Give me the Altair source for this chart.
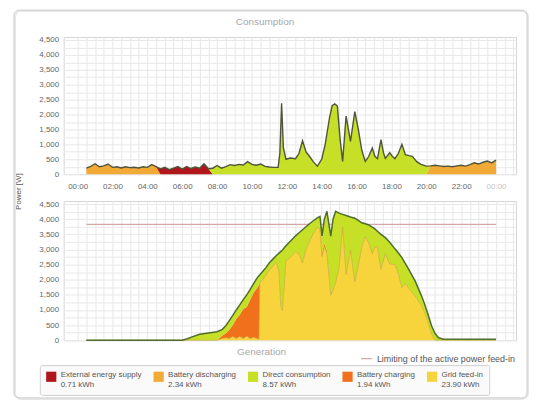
import altair as alt
import pandas as pd

# ---------------- data ----------------
SERIES = ["External energy supply", "Battery discharging", "Direct consumption",
          "Battery charging", "Grid feed-in"]
ENERGY = ["0.71 kWh", "2.34 kWh", "8.57 kWh", "1.94 kWh", "23.90 kWh"]
COLORS = ["#b0161c", "#f2aa36", "#c6df27", "#f0701c", "#f8d43c"]

HOUR_LABELS = ["00:00", "02:00", "04:00", "06:00", "08:00", "10:00", "12:00",
               "14:00", "16:00", "18:00", "20:00", "22:00", "00:00"]

TITLE_TOP = "Consumption"
TITLE_BOTTOM = "Generation"
LIMIT_LABEL = "Limiting of the active power feed-in"
LIMIT_W = [3830]
LIMIT_SPAN = [0.5, 24.0]

# Consumption (W), by the source that covered it
dis_am_t = [0.5, 0.75, 1.0, 1.25, 1.5, 1.75, 2.0, 2.25, 2.5, 2.75, 3.0, 3.25,
            3.5, 3.75, 4.0, 4.25, 4.5]
dis_am_w = [200, 260, 350, 250, 280, 340, 230, 250, 210, 250, 220, 230,
            210, 250, 230, 320, 250]
ext_t = [4.75, 5.0, 5.25, 5.5, 5.75, 6.0, 6.25, 6.5, 6.75, 7.0, 7.25, 7.5]
ext_w = [180, 230, 150, 200, 260, 170, 260, 190, 240, 200, 350, 180]
dir_t = [7.75, 8.0, 8.25, 8.5, 8.75, 9.0, 9.25, 9.5, 9.75, 10.0,
         10.25, 10.5, 10.75, 11.0, 11.25, 11.5, 11.6, 11.7, 11.8, 11.95,
         12.2, 12.5, 12.7, 12.9, 13.1, 13.3, 13.5, 13.75, 14.0, 14.2,
         14.45, 14.6, 14.75, 14.9, 15.05, 15.2, 15.4, 15.65, 15.9, 16.1,
         16.3, 16.5, 16.7, 16.9, 17.05, 17.2, 17.4, 17.55, 17.65, 17.9,
         18.05, 18.2, 18.4, 18.6, 18.8, 19.0, 19.2, 19.45, 19.7, 20.0]
dir_w = [200, 290, 200, 250, 320, 290, 330, 310, 420, 330,
         300, 340, 260, 240, 230, 230, 700, 2380, 900, 500,
         540, 520, 700, 1120, 750, 600, 430, 270, 500, 1000,
         1900, 2300, 2360, 2280, 1200, 430, 1950, 1100, 2100, 1500,
         800, 430, 600, 880, 600, 520, 1160, 700, 530, 720,
         600, 520, 700, 1000, 650, 620, 600, 420, 330, 270]
dis_pm_t = [20.25, 20.5, 20.75, 21.0, 21.25, 21.5, 21.75, 22.0, 22.25, 22.5,
            22.75, 23.0, 23.25, 23.5, 23.75, 24.0]
dis_pm_w = [280, 300, 280, 260, 270, 250, 280, 300, 270, 320,
            380, 340, 400, 440, 380, 470]

# Generation (W), split by use
gen_t = [0.5, 6.0, 6.3, 6.6, 7.0, 7.5, 8.0, 8.3, 8.5, 8.7,
         8.9, 9.1, 9.3, 9.5, 9.7, 9.9, 10.1, 10.3, 10.4, 10.45,
         10.6, 10.8, 11.0, 11.2, 11.4, 11.55, 11.65, 11.75, 11.95, 12.2,
         12.5, 12.7, 12.9, 13.1, 13.3, 13.5, 13.75, 13.9, 14.02, 14.15,
         14.3, 14.52, 14.65, 14.8, 15.0, 15.2, 15.4, 15.65, 15.9, 16.1,
         16.3, 16.5, 16.7, 16.9, 17.05, 17.2, 17.4, 17.65, 17.9, 18.2,
         18.4, 18.6, 18.8, 19.0, 19.35, 19.7, 19.9, 20.1, 20.3, 20.5,
         20.7, 21.0, 24.0]
gen_direct = [0, 0, 50, 120, 200, 240, 280, 200, 250, 300,
              320, 290, 330, 310, 400, 330, 300, 330, 300, 280,
              270, 250, 240, 230, 230, 600, 1800, 2000, 500, 540,
              520, 700, 1100, 750, 600, 430, 300, 450, 600, 800,
              1300, 1950, 2330, 2360, 1800, 430, 1950, 1100, 2100, 1500,
              800, 430, 600, 880, 600, 520, 1160, 530, 720, 520,
              700, 1000, 650, 620, 500, 330, 280, 270, 280, 220,
              80, 30, 30]
gen_charge = [0, 0, 0, 0, 0, 0, 0, 100, 150, 290,
              380, 650, 720, 970, 970, 1290, 1480, 1680, 1800, 0,
              0, 0, 0, 0, 0, 0, 0, 0, 0, 0,
              0, 0, 0, 0, 0, 0, 0, 0, 80, 100,
              80, 0, 0, 0, 0, 0, 0, 0, 0, 0,
              0, 0, 0, 0, 0, 0, 0, 0, 0, 0,
              0, 0, 0, 0, 0, 0, 0, 0, 0, 0,
              0, 0, 0]
gen_feed = [0, 0, 0, 0, 0, 0, 0, 60, 80, 60,
            120, 60, 120, 60, 130, 60, 100, 50, 30, 1880,
            1990, 2150, 2320, 2450, 2570, 2280, 1130, 980, 2620, 2730,
            2930, 2850, 2550, 3000, 3250, 3510, 3740, 3640, 2770, 3100,
            2880, 1490, 1670, 1900, 2400, 3730, 2170, 2970, 1930, 2460,
            3080, 3420, 3210, 2860, 3080, 3080, 2340, 2860, 2520, 2500,
            2180, 1730, 1880, 1710, 1470, 1170, 920, 580, 200, 0,
            0, 0, 0]

# ---------------- tables ----------------
cons_order = ["Battery discharging", "External energy supply", "Direct consumption"]
segments = [("Battery discharging", dis_am_t, dis_am_w),
            ("External energy supply", ext_t, ext_w),
            ("Direct consumption", dir_t, dir_w),
            ("Battery discharging", dis_pm_t, dis_pm_w)]
cons_rows = []
for name, ts, ws in segments:
    for t, w in zip(ts, ws):
        for k, s in enumerate(cons_order):
            cons_rows.append({"t": t, "series": s, "w": w if s == name else 0, "ord": k})
cons_df = pd.DataFrame(cons_rows)

gen_order = ["Grid feed-in", "Battery charging", "Direct consumption"]
gen_vals = {"Grid feed-in": gen_feed, "Battery charging": gen_charge,
            "Direct consumption": gen_direct}
gen_rows = []
for i, t in enumerate(gen_t):
    for k, s in enumerate(gen_order):
        gen_rows.append({"t": t, "series": s, "w": gen_vals[s][i], "ord": k})
gen_df = pd.DataFrame(gen_rows)

limit_df = pd.DataFrame({"t0": [LIMIT_SPAN[0]], "t1": [LIMIT_SPAN[1]],
                         "w": LIMIT_W, "name": [LIMIT_LABEL]})
one_df = pd.DataFrame({"k": [0]})

# ---------------- styling ----------------
FONT = "Liberation Sans"
X_DOMAIN = [-0.8, 25.15]
Y_DOMAIN = [0, 4600]
W, H_TOP, H_BOT = 455, 138, 140
grid_x = [i * 0.5 for i in range(0, 51)]
grid_y = list(range(0, 4600, 250))

hour_expr = "datum.value % 2 == 0 ? " + str(HOUR_LABELS) + "[datum.value / 2] : ''"
yl_expr = "datum.value % 500 == 0 ? format(datum.value, ',') : ''"
legend_expr = "".join(
    f"datum.label == '{s}' ? ['{s}', '{e}'] : " for s, e in zip(SERIES, ENERGY)
) + "datum.label"

color_scale = alt.Scale(domain=SERIES, range=COLORS)
color_legend = alt.Legend(
    title=None, orient="none", legendX=-24, legendY=330,
    direction="horizontal", columns=5, symbolType="square", symbolSize=105,
    symbolStrokeWidth=0, symbolOpacity=1, labelFontSize=8, labelFont=FONT,
    labelColor="#555", labelExpr=legend_expr, labelBaseline="alphabetic",
    labelLimit=300, columnPadding=11, padding=6, strokeColor="#d0d0d0",
    fillColor="#fafafa", cornerRadius=2,
)

xs = alt.Scale(domain=X_DOMAIN, nice=False, zero=False)
ys = alt.Scale(domain=Y_DOMAIN, nice=False)

x_axis_top = alt.Axis(values=grid_x, labelExpr=hour_expr, labelOverlap=False,
                      labelPadding=8, labelFontSize=8,
                      labelColor={"condition": {"test": "datum.value >= 24",
                                                "value": "#c4c4c4"},
                                  "value": "#666"},
                      title=None)
y_axis_top = alt.Axis(values=grid_y, labelExpr=yl_expr, labelOverlap=False,
                      labelPadding=5, title="Power [W]", titleX=-41,
                      titleY=155, titleAngle=270, titleAlign="center",
                      titleBaseline="bottom", titleFontSize=8,
                      titleFontWeight="normal", titleColor="#555")
x_axis_bot = alt.Axis(values=grid_x, labels=False, title=None)
y_axis_bot = alt.Axis(values=grid_y, labelExpr=yl_expr, labelOverlap=False,
                      labelPadding=5, title=None)

cons_area = alt.Chart(cons_df).mark_area(interpolate="linear").encode(
    x=alt.X("t:Q", scale=xs, axis=x_axis_top),
    y=alt.Y("w:Q", stack="zero", scale=ys, axis=y_axis_top),
    color=alt.Color("series:N", scale=color_scale, legend=color_legend),
    order=alt.Order("ord:Q"),
)
cons_line = alt.Chart(cons_df).transform_aggregate(
    total="sum(w)", groupby=["t"]
).mark_line(color="#4f553c", strokeWidth=1.4).encode(
    x=alt.X("t:Q", scale=xs, axis=x_axis_top),
    y=alt.Y("total:Q", scale=ys, axis=y_axis_top),
)

top = alt.layer(cons_area, cons_line).properties(
    width=W, height=H_TOP,
    title=alt.TitleParams(TITLE_TOP, fontSize=10, color="#a8a8a8",
                          fontWeight="normal", font=FONT, offset=9, dx=-25),
)

# frame around the whole widget (drawn from the lower panel, no fill)
shadow = alt.Chart(one_df).mark_rect(
    fillOpacity=0, stroke="#e6e6e6", strokeWidth=2, cornerRadius=6
).encode(x=alt.value(-49), x2=alt.value(467), y=alt.value(-191), y2=alt.value(199))
frame = alt.Chart(one_df).mark_rect(
    fillOpacity=0, stroke="#cdcdcd", strokeWidth=1, cornerRadius=5
).encode(x=alt.value(-50), x2=alt.value(466), y=alt.value(-192), y2=alt.value(198))

gen_title = alt.Chart(one_df).mark_text(
    text=TITLE_BOTTOM, fontSize=10, color="#a8a8a8", font=FONT
).encode(x=alt.value(199), y=alt.value(H_BOT + 12))

limit_rule = alt.Chart(limit_df).mark_rule(strokeWidth=1.2).encode(
    x=alt.X("t0:Q", scale=xs, axis=x_axis_bot), x2="t1:Q",
    y=alt.Y("w:Q", scale=ys, axis=y_axis_bot),
    stroke=alt.Stroke("name:N", scale=alt.Scale(domain=[LIMIT_LABEL], range=["#d6a6a6"]),
                      legend=alt.Legend(title=None, orient="none", legendX=298,
                                        legendY=317, symbolType="stroke",
                                        symbolSize=120, symbolStrokeWidth=1.2,
                                        labelFontSize=9, labelColor="#555",
                                        labelFont=FONT, padding=0)),
)
gen_area = alt.Chart(gen_df).mark_area(interpolate="linear").encode(
    x=alt.X("t:Q", scale=xs, axis=x_axis_bot),
    y=alt.Y("w:Q", stack="zero", scale=ys, axis=y_axis_bot),
    color=alt.Color("series:N", scale=color_scale, legend=color_legend),
    order=alt.Order("ord:Q"),
)
feed_edge = alt.Chart(gen_df).transform_filter(
    alt.datum.series == "Grid feed-in"
).mark_line(color="#c8a536", strokeWidth=0.8, opacity=0.8).encode(
    x=alt.X("t:Q", scale=xs, axis=x_axis_bot),
    y=alt.Y("w:Q", scale=ys, axis=y_axis_bot),
)
gen_line = alt.Chart(gen_df).transform_aggregate(
    total="sum(w)", groupby=["t"]
).mark_line(color="#4e6e2e", strokeWidth=1.5).encode(
    x=alt.X("t:Q", scale=xs, axis=x_axis_bot),
    y=alt.Y("total:Q", scale=ys, axis=y_axis_bot),
)

bottom = alt.layer(shadow, frame, limit_rule, gen_area, feed_edge, gen_line,
                   gen_title).properties(width=W, height=H_BOT)

chart = alt.vconcat(top, bottom, spacing=27, bounds="flush").resolve_scale(
    color="shared"
).properties(
    padding={"left": 5, "top": 0, "right": 2, "bottom": 2},
    background="white",
).configure_view(stroke="#d6d6d6").configure_axis(
    labelFont=FONT, titleFont=FONT, labelFontSize=8, labelColor="#666",
    gridColor="#e8e8e8", gridWidth=1, domain=False, ticks=False,
)

chart.save("out.html", embed_options={"renderer": "svg", "actions": False})
